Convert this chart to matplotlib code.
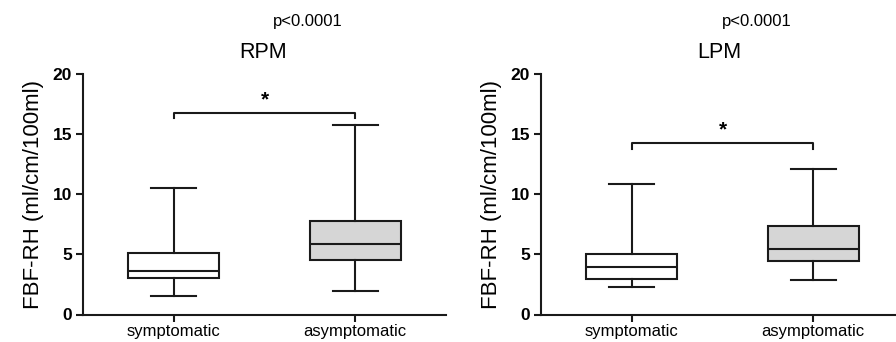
import matplotlib
matplotlib.use("Agg")
import matplotlib.pyplot as plt

plt.rcParams['font.family'] = ['Liberation Sans', 'DejaVu Sans']

categories = ["symptomatic", "asymptomatic"]
panels = ["RPM", "LPM"]
p_text = "p<0.0001"
ylabel = "FBF-RH (ml/cm/100ml)"

# whislo, q1, med, q3, whishi per category
rpm_stats = [[1.56, 3.0, 3.64, 5.14, 10.54],
             [1.98, 4.53, 5.83, 7.77, 15.75]]
lpm_stats = [[2.29, 2.95, 3.95, 5.0, 10.82],
             [2.87, 4.42, 5.42, 7.38, 12.07]]
bracket_y = [16.77, 14.23]
bracket_drop = [0.47, 0.47]
yticks = [0, 5, 10, 15, 20]

fig = plt.figure(figsize=(8.96, 3.42), dpi=100)
lefts = [83 / 896, 541 / 896]
w = 363 / 896
b = (342 - 314.5) / 342
h = 240.5 / 342
fills = ["white", "#d6d6d6"]
title_x = [1.49, 1.48]
p_x = [1.74, 1.69]

for i, (name, stats) in enumerate(zip(panels, [rpm_stats, lpm_stats])):
    ax = fig.add_axes([lefts[i], b, w, h])
    bx = []
    for cat, s in zip(categories, stats):
        bx.append(dict(label=cat, whislo=s[0], q1=s[1], med=s[2], q3=s[3], whishi=s[4], fliers=[]))
    lw = 1.5
    res = ax.bxp(bx, positions=[1, 2], widths=0.5, capwidths=0.25, patch_artist=True,
                 showfliers=False,
                 boxprops=dict(linewidth=lw, edgecolor="#1a1a1a"),
                 medianprops=dict(linewidth=lw, color="#1a1a1a"),
                 whiskerprops=dict(linewidth=lw, color="#1a1a1a"),
                 capprops=dict(linewidth=lw, color="#1a1a1a"))
    for patch, fc in zip(res["boxes"], fills):
        patch.set_facecolor(fc)
    ax.set_xlim(0.5, 2.5)
    ax.set_ylim(0, 20)
    ax.set_yticks(yticks)
    ax.set_xticks([1, 2])
    ax.set_xticklabels(categories, fontsize=12)
    for t in ax.get_yticklabels():
        t.set_fontweight("bold")
        t.set_fontsize(12.5)
    ax.tick_params(axis="both", direction="out", length=5, width=1.5, color="#1a1a1a")
    ax.tick_params(axis="y", pad=3)
    ax.tick_params(axis="x", pad=2)
    for sp in ["top", "right"]:
        ax.spines[sp].set_visible(False)
    for sp in ["left", "bottom"]:
        ax.spines[sp].set_linewidth(1.5)
        ax.spines[sp].set_color("#1a1a1a")
    ax.set_ylabel(ylabel, fontsize=16, labelpad=6)
    by = bracket_y[i]
    ax.plot([1, 1, 2, 2], [by - bracket_drop[i], by, by, by - bracket_drop[i]],
            color="#1a1a1a", linewidth=1.5, clip_on=False)
    ax.text(1.5, by + 0.3, "*", ha="center", va="bottom", fontsize=15, fontweight="bold")
    ax.text(title_x[i], 21.8, name, ha="center", va="center", fontsize=15.5, clip_on=False)
    ax.text(p_x[i], 24.4, p_text, ha="center", va="center", fontsize=12, clip_on=False)

fig.savefig("out.png", dpi=100)
